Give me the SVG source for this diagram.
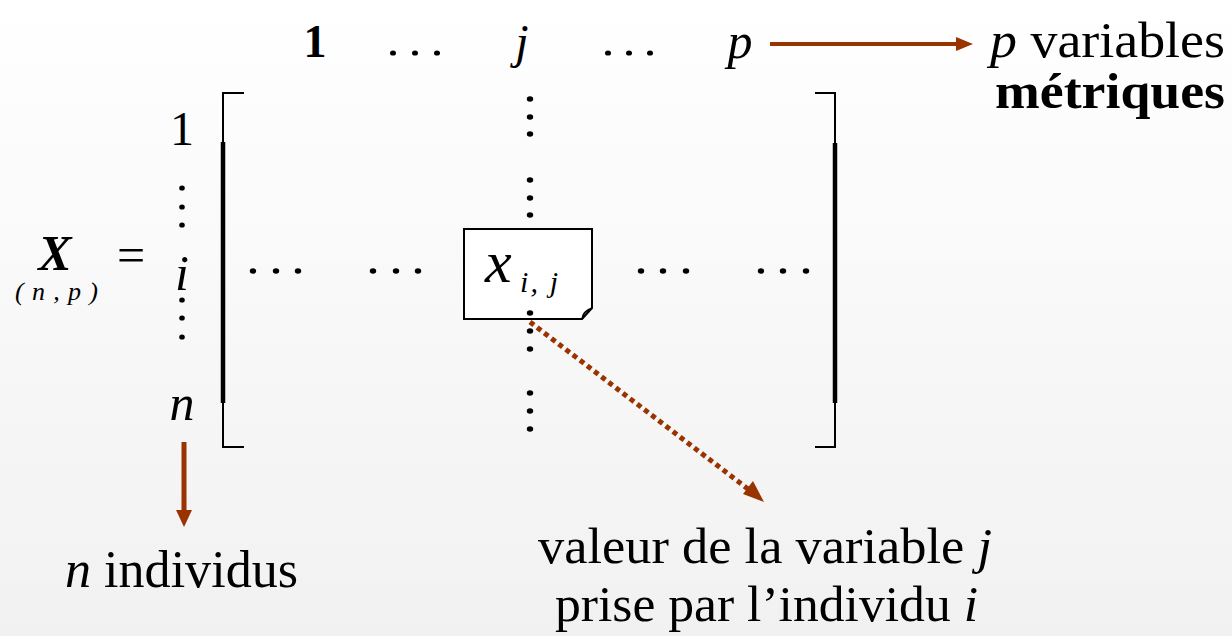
<svg xmlns="http://www.w3.org/2000/svg" width="1232" height="636" viewBox="0 0 1232 636" font-family="Liberation Serif, Tinos, DejaVu Serif, Noto Serif, Times New Roman, Times, serif">
<defs>
<linearGradient id="bg" x1="0" y1="0" x2="0" y2="1">
<stop offset="0" stop-color="#ffffff"/>
<stop offset="1" stop-color="#f1f1f1"/>
</linearGradient>
<style>
text{font-family:"Liberation Serif",Tinos,"DejaVu Serif","Noto Serif","Times New Roman",Times,serif;fill:#000}
.it{font-style:italic}
.b{font-weight:bold}
.br{fill:none;stroke:#000;stroke-width:2}
.brk{fill:none;stroke:#000;stroke-width:4.5}
.arr{stroke:#993300;fill:none}
.head{fill:#993300}
</style>
</defs>
<rect width="1232" height="636" fill="url(#bg)"/>

<g id="matrix-label">
<text class="b it" x="55" y="270" font-size="50" text-anchor="middle">X</text>
<text class="it" x="15" y="300" font-size="26" textLength="83" lengthAdjust="spacing">(n,p)</text>
<text x="131" y="272" font-size="50" text-anchor="middle">=</text>
</g>

<g id="column-labels">
<text class="b" x="315" y="57" font-size="46" text-anchor="middle">1</text>
<g fill="#000"><ellipse cx="393" cy="53" rx="3" ry="2.6"/><ellipse cx="415" cy="53" rx="3" ry="2.6"/><ellipse cx="437" cy="53" rx="3" ry="2.6"/>
<ellipse cx="608" cy="53" rx="3" ry="2.6"/><ellipse cx="629" cy="53" rx="3" ry="2.6"/><ellipse cx="650" cy="53" rx="3" ry="2.6"/></g>
<text class="it" x="522" y="58" font-size="48" text-anchor="middle">j</text>
<text class="it" x="740" y="58" font-size="50" text-anchor="middle">p</text>
</g>

<g id="row-labels">
<text x="182" y="145" font-size="48" text-anchor="middle">1</text>
<text class="it" x="182" y="290" font-size="50" text-anchor="middle">i</text>
<text class="it" x="182" y="420" font-size="50" text-anchor="middle">n</text>
<g fill="#000"><ellipse cx="182" cy="188" rx="2.8" ry="2.6"/><ellipse cx="182" cy="207" rx="2.8" ry="2.6"/><ellipse cx="182" cy="225" rx="2.8" ry="2.6"/>
<ellipse cx="182" cy="300" rx="2.8" ry="2.6"/><ellipse cx="182" cy="318" rx="2.8" ry="2.6"/><ellipse cx="182" cy="337" rx="2.8" ry="2.6"/></g>
</g>

<g id="brackets">
<path class="br" d="M244 93 H223 V447 H244"/>
<path class="brk" d="M223 142 V403"/>
<path class="br" d="M815 93 H835 V447 H815"/>
<path class="brk" d="M835 143 V403"/>
</g>

<g id="matrix-dots" fill="#000">
<ellipse cx="253" cy="271" rx="3.2" ry="2.7"/><ellipse cx="276" cy="271" rx="3.2" ry="2.7"/><ellipse cx="298" cy="271" rx="3.2" ry="2.7"/>
<ellipse cx="373" cy="271" rx="3.2" ry="2.7"/><ellipse cx="396" cy="271" rx="3.2" ry="2.7"/><ellipse cx="418" cy="271" rx="3.2" ry="2.7"/>
<ellipse cx="641" cy="271" rx="3.2" ry="2.7"/><ellipse cx="663" cy="271" rx="3.2" ry="2.7"/><ellipse cx="686" cy="271" rx="3.2" ry="2.7"/>
<ellipse cx="761" cy="271" rx="3.2" ry="2.7"/><ellipse cx="783" cy="271" rx="3.2" ry="2.7"/><ellipse cx="806" cy="271" rx="3.2" ry="2.7"/>
<ellipse cx="530" cy="99" rx="3.2" ry="2.7"/><ellipse cx="530" cy="117" rx="3.2" ry="2.7"/><ellipse cx="530" cy="134" rx="3.2" ry="2.7"/>
<ellipse cx="530" cy="180" rx="3.2" ry="2.7"/><ellipse cx="530" cy="198" rx="3.2" ry="2.7"/><ellipse cx="530" cy="215" rx="3.2" ry="2.7"/>
<ellipse cx="530" cy="393" rx="3.2" ry="2.7"/><ellipse cx="530" cy="411" rx="3.2" ry="2.7"/><ellipse cx="530" cy="429" rx="3.2" ry="2.7"/>
</g>

<g id="cell">
<path d="M464 229 H592 V308 L582 319 H464 Z" fill="#fff" stroke="#000" stroke-width="2"/>
<path d="M582 319 Q583 311 592 308 Q586 313 582 319 Z" fill="#fff" stroke="#000" stroke-width="1.5"/>
<text class="it" x="485" y="282" font-size="60">x</text>
<text class="it" x="520" y="292" font-size="30" textLength="38" lengthAdjust="spacing">i, j</text>
</g>

<g id="cell-dots-below" fill="#000">
<ellipse cx="530" cy="313" rx="3.2" ry="2.7"/><ellipse cx="530" cy="331" rx="3.2" ry="2.7"/><ellipse cx="530" cy="349" rx="3.2" ry="2.7"/>
</g>

<g id="connectors">
<line class="arr" x1="770" y1="44" x2="958" y2="44" stroke-width="4"/>
<polygon class="head" points="973,44 956,37 956,51"/>
<line class="arr" x1="184" y1="442" x2="184" y2="512" stroke-width="5"/>
<polygon class="head" points="184,527 176,510 192,510"/>
<line class="arr" x1="530" y1="322" x2="748" y2="489" stroke-width="5" stroke-dasharray="5 4"/>
<polygon class="head" points="764,502 743,494 753,481"/>
</g>

<g id="label-variables">
<text x="990" y="57" font-size="50" textLength="235" lengthAdjust="spacingAndGlyphs"><tspan class="it">p</tspan> variables</text>
<text class="b" x="995" y="108" font-size="50" textLength="230" lengthAdjust="spacingAndGlyphs">métriques</text>
</g>

<g id="label-individus">
<text x="65" y="587" font-size="52" textLength="233" lengthAdjust="spacingAndGlyphs"><tspan class="it">n</tspan> individus</text>
</g>

<g id="label-value">
<text x="538" y="563" font-size="50" textLength="454" lengthAdjust="spacingAndGlyphs">valeur de la variable <tspan class="it">j</tspan></text>
<text x="555" y="621" font-size="50" textLength="423" lengthAdjust="spacingAndGlyphs">prise par l’individu <tspan class="it">i</tspan></text>
</g>
</svg>
